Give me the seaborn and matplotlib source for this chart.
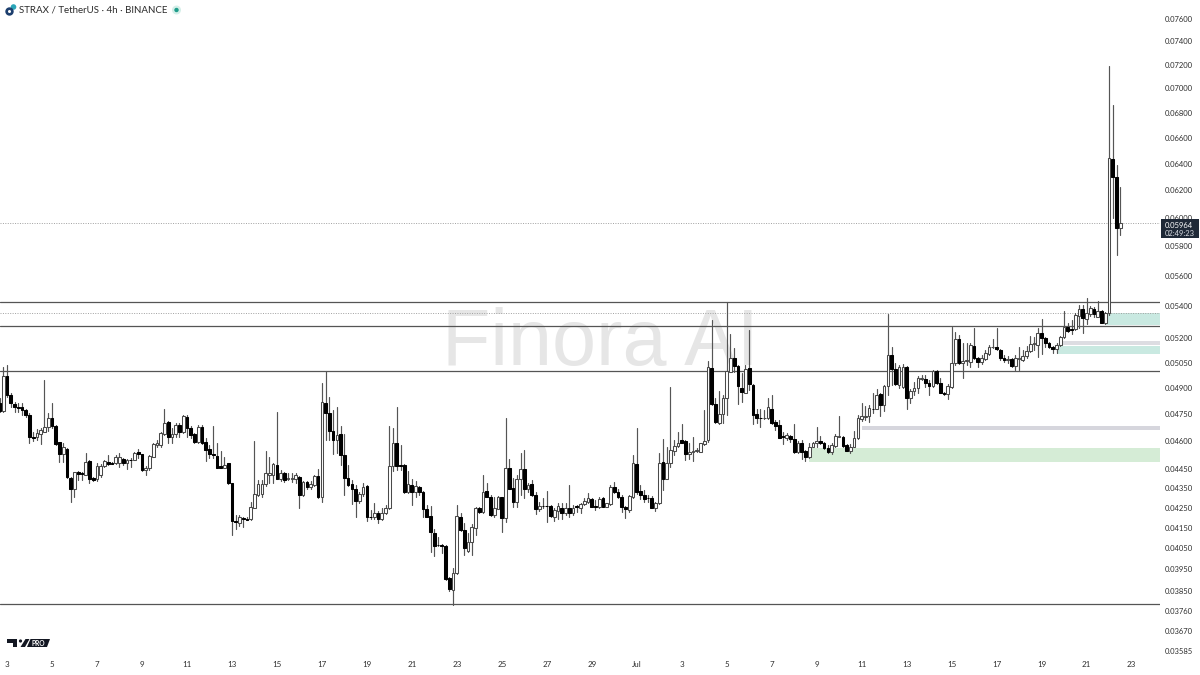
# STRAX/USDT 4h candles
import matplotlib
matplotlib.use("Agg")
import matplotlib.pyplot as plt
from matplotlib.patches import Circle, Polygon, Rectangle
from matplotlib.ticker import FixedLocator, NullLocator
import pandas as pd
import seaborn as sns

# prices are in ticks of 0.00001
opens = [
    4812, 4770, 4971, 4860, 4808, 4793, 4789, 4774, 4749, 4622,
    4622, 4640, 4653, 4677, 4727, 4686, 4594, 4531, 4558, 4404,
    4344, 4434, 4428, 4422, 4494, 4403, 4396, 4419, 4467, 4490,
    4483, 4481, 4485, 4504, 4485, 4501, 4499, 4544, 4530, 4445,
    4454, 4517, 4578, 4580, 4643, 4705, 4625, 4643, 4688, 4653,
    4737, 4675, 4640, 4598, 4681, 4598, 4558, 4531, 4521, 4467,
    4454, 4481, 4376, 4182, 4176, 4199, 4194, 4192, 4251, 4317,
    4320, 4370, 4419, 4419, 4474, 4401, 4428, 4396, 4401, 4398,
    4410, 4315, 4383, 4358, 4367, 4413, 4303, 4812, 4759, 4658,
    4607, 4640, 4526, 4406, 4372, 4349, 4285, 4319, 4362, 4206,
    4202, 4226, 4196, 4222, 4247, 4468, 4589, 4472, 4472, 4329,
    4367, 4329, 4355, 4331, 4242, 4209, 4127, 4066, 4066, 4062,
    3908, 3855, 3932, 4206, 4139, 4039, 4082, 4151, 4247, 4231,
    4337, 4307, 4214, 4244, 4303, 4201, 4454, 4353, 4281, 4398,
    4449, 4349, 4370, 4315, 4244, 4262, 4261, 4259, 4202, 4236,
    4247, 4222, 4251, 4222, 4261, 4247, 4269, 4281, 4293, 4259,
    4256, 4298, 4256, 4269, 4358, 4331, 4307, 4253, 4239, 4303,
    4477, 4337, 4315, 4301, 4298, 4251, 4273, 4490, 4401, 4481,
    4549, 4575, 4607, 4600, 4530, 4540, 4549, 4544, 4585, 4607,
    5017, 4806, 4699, 4752, 4841, 4997, 5081, 5031, 4904, 4874,
    5017, 4918, 4750, 4731, 4727, 4727, 4783, 4705, 4690, 4629,
    4616, 4631, 4611, 4540, 4592, 4546, 4513, 4571, 4589, 4603,
    4589, 4565, 4544, 4576, 4625, 4625, 4578, 4549, 4571, 4616,
    4722, 4737, 4740, 4783, 4783, 4864, 4802, 4914, 5097, 5013,
    4918, 4908, 5023, 4841, 4883, 4899, 4956, 4954, 4932, 4912,
    5001, 4928, 4874, 4864, 4908, 5051, 5193, 5051, 5059, 5057,
    5152, 5081, 5057, 5075, 5103, 5144, 5148, 5125, 5079, 5067,
    5071, 5031, 5071, 5067, 5091, 5121, 5162, 5158, 5230, 5203,
    5172, 5144, 5133, 5158, 5206, 5272, 5257, 5257, 5341, 5382,
    5317, 5351, 5384, 5334, 5371, 5292, 5360, 6432, 6300, 5929,
]
closes = [
    4770, 4971, 4860, 4812, 4793, 4787, 4774, 4746, 4622, 4616,
    4647, 4662, 4681, 4727, 4686, 4583, 4531, 4567, 4409, 4344,
    4433, 4424, 4424, 4490, 4396, 4393, 4468, 4468, 4494, 4479,
    4477, 4513, 4513, 4485, 4499, 4497, 4539, 4531, 4445, 4459,
    4521, 4585, 4593, 4647, 4699, 4625, 4643, 4688, 4653, 4740,
    4671, 4634, 4594, 4681, 4589, 4553, 4531, 4526, 4454, 4456,
    4470, 4376, 4184, 4177, 4206, 4192, 4191, 4256, 4320, 4372,
    4372, 4431, 4431, 4477, 4401, 4431, 4393, 4404, 4404, 4419,
    4315, 4384, 4358, 4372, 4413, 4303, 4821, 4755, 4658, 4607,
    4634, 4526, 4406, 4367, 4349, 4285, 4319, 4358, 4202, 4202,
    4226, 4196, 4226, 4247, 4468, 4589, 4468, 4467, 4329, 4370,
    4329, 4362, 4332, 4242, 4206, 4131, 4062, 4065, 4063, 3905,
    3858, 3932, 4209, 4139, 4050, 4082, 4155, 4247, 4231, 4332,
    4307, 4214, 4247, 4303, 4201, 4454, 4349, 4281, 4401, 4449,
    4349, 4365, 4315, 4244, 4261, 4261, 4259, 4209, 4239, 4261,
    4222, 4251, 4222, 4251, 4256, 4269, 4286, 4298, 4256, 4252,
    4293, 4256, 4273, 4355, 4331, 4307, 4253, 4246, 4310, 4481,
    4332, 4315, 4295, 4298, 4251, 4276, 4485, 4401, 4481, 4553,
    4575, 4593, 4593, 4530, 4544, 4548, 4553, 4589, 4603, 5027,
    4808, 4705, 4752, 4846, 5001, 5081, 5031, 4914, 4879, 5013,
    4924, 4746, 4727, 4727, 4731, 4789, 4703, 4684, 4620, 4625,
    4633, 4611, 4540, 4592, 4544, 4513, 4571, 4592, 4603, 4589,
    4562, 4544, 4580, 4631, 4629, 4574, 4549, 4571, 4616, 4727,
    4740, 4742, 4785, 4778, 4860, 4802, 4912, 5097, 5013, 4922,
    5027, 5027, 4841, 4883, 4899, 4958, 4958, 4932, 4912, 5001,
    4928, 4874, 4864, 4912, 5051, 5195, 5051, 5063, 5065, 5158,
    5077, 5057, 5077, 5111, 5144, 5148, 5133, 5077, 5067, 5073,
    5031, 5077, 5077, 5093, 5123, 5164, 5168, 5230, 5203, 5168,
    5144, 5131, 5158, 5206, 5272, 5247, 5251, 5345, 5384, 5328,
    5360, 5388, 5351, 5371, 5296, 5360, 6443, 6300, 5929, 5964,
]
highs = [
    4841, 5023, 5039, 4870, 4822, 4812, 4812, 4778, 4755, 4653,
    4666, 4671, 4948, 4755, 4816, 4690, 4598, 4589, 4562, 4409,
    4436, 4441, 4436, 4535, 4499, 4410, 4481, 4477, 4499, 4526,
    4490, 4526, 4535, 4508, 4504, 4508, 4544, 4557, 4531, 4467,
    4526, 4593, 4607, 4653, 4778, 4714, 4671, 4699, 4699, 4746,
    4746, 4684, 4647, 4690, 4690, 4616, 4580, 4684, 4589, 4549,
    4513, 4485, 4379, 4214, 4214, 4206, 4206, 4281, 4603, 4393,
    4393, 4549, 4513, 4485, 4761, 4445, 4436, 4428, 4428, 4428,
    4413, 4390, 4390, 4390, 4419, 4449, 4928, 5001, 4850, 4774,
    4793, 4686, 4643, 4470, 4393, 4367, 4332, 4379, 4365, 4239,
    4276, 4236, 4247, 4264, 4686, 4675, 4789, 4580, 4477, 4442,
    4396, 4390, 4362, 4334, 4264, 4259, 4147, 4106, 4071, 4066,
    3913, 3955, 4264, 4222, 4172, 4126, 4169, 4252, 4256, 4422,
    4376, 4315, 4303, 4310, 4307, 4727, 4503, 4406, 4419, 4538,
    4553, 4376, 4393, 4332, 4281, 4298, 4337, 4264, 4247, 4273,
    4276, 4273, 4367, 4264, 4264, 4276, 4298, 4324, 4298, 4290,
    4303, 4303, 4276, 4367, 4384, 4344, 4315, 4260, 4315, 4526,
    4671, 4367, 4341, 4315, 4310, 4281, 4535, 4611, 4571, 4907,
    4607, 4649, 4696, 4607, 4589, 4622, 4562, 4593, 4774, 5063,
    5313, 4841, 4885, 4860, 5430, 5224, 5137, 5035, 4987, 5037,
    5251, 4922, 4783, 4783, 4774, 4841, 4860, 4718, 4716, 4653,
    4644, 4635, 4694, 4603, 4607, 4553, 4592, 4598, 4681, 4629,
    4598, 4580, 4589, 4640, 4740, 4629, 4585, 4583, 4658, 4746,
    4815, 4800, 4802, 4870, 4895, 4870, 4918, 5351, 5143, 5051,
    5037, 5043, 5031, 4893, 4938, 4974, 4978, 4978, 4948, 5007,
    5007, 4958, 4879, 4922, 5272, 5241, 5220, 5168, 5168, 5168,
    5265, 5087, 5097, 5127, 5158, 5193, 5265, 5131, 5097, 5093,
    5077, 5097, 5148, 5127, 5152, 5214, 5206, 5261, 5317, 5210,
    5178, 5152, 5168, 5214, 5373, 5292, 5313, 5360, 5410, 5410,
    5453, 5403, 5399, 5436, 5377, 5367, 7190, 6861, 6389, 6221,
]
lows = [
    4765, 4765, 4850, 4793, 4765, 4765, 4746, 4733, 4589, 4603,
    4607, 4585, 4653, 4658, 4671, 4580, 4490, 4490, 4406, 4281,
    4307, 4393, 4393, 4419, 4379, 4390, 4390, 4410, 4460, 4472,
    4477, 4477, 4463, 4472, 4449, 4463, 4499, 4508, 4442, 4419,
    4445, 4513, 4571, 4571, 4635, 4592, 4592, 4622, 4625, 4647,
    4625, 4616, 4589, 4589, 4585, 4495, 4508, 4508, 4454, 4454,
    4454, 4373, 4115, 4147, 4159, 4155, 4189, 4189, 4248, 4313,
    4307, 4362, 4379, 4379, 4396, 4390, 4384, 4393, 4384, 4379,
    4247, 4310, 4349, 4344, 4362, 4298, 4281, 4607, 4607, 4529,
    4535, 4472, 4315, 4362, 4269, 4202, 4276, 4310, 4182, 4192,
    4196, 4172, 4189, 4219, 4244, 4442, 4445, 4445, 4324, 4324,
    4267, 4303, 4315, 4206, 4202, 4034, 4014, 4062, 4026, 3900,
    3852, 3787, 3929, 4136, 4018, 4034, 4018, 4115, 4226, 4226,
    4303, 4211, 4206, 4242, 4131, 4181, 4344, 4256, 4256, 4315,
    4298, 4332, 4310, 4219, 4236, 4247, 4181, 4206, 4186, 4192,
    4192, 4214, 4206, 4214, 4231, 4226, 4264, 4276, 4252, 4239,
    4249, 4253, 4253, 4266, 4327, 4298, 4231, 4197, 4231, 4298,
    4320, 4293, 4281, 4281, 4247, 4236, 4269, 4341, 4398, 4463,
    4526, 4567, 4589, 4499, 4503, 4495, 4544, 4540, 4580, 4598,
    4802, 4699, 4695, 4699, 4746, 4993, 4997, 4808, 4822, 4870,
    4889, 4694, 4699, 4677, 4724, 4722, 4695, 4662, 4616, 4585,
    4607, 4598, 4535, 4535, 4503, 4494, 4508, 4567, 4567, 4585,
    4558, 4535, 4531, 4571, 4622, 4571, 4546, 4535, 4567, 4612,
    4714, 4720, 4709, 4759, 4778, 4740, 4770, 4860, 4918, 4918,
    4904, 4904, 4778, 4812, 4860, 4870, 4948, 4908, 4860, 4908,
    4924, 4870, 4860, 4835, 4904, 5037, 5043, 4962, 5037, 5027,
    5071, 5027, 5043, 5067, 5097, 5137, 5127, 5067, 5057, 5051,
    5023, 5007, 5007, 5061, 5077, 5113, 5127, 5087, 5103, 5148,
    5137, 5107, 5107, 5154, 5199, 5241, 5224, 5251, 5261, 5230,
    5286, 5339, 5330, 5330, 5292, 5288, 5345, 5999, 5741, 5878,
]

price_ticks = [0.07600, 0.07400, 0.07200, 0.07000, 0.06800, 0.06600, 0.06400,
               0.06200, 0.06000, 0.05800, 0.05600, 0.05400, 0.05200, 0.05050,
               0.04900, 0.04750, 0.04600, 0.04450, 0.04350, 0.04250, 0.04150,
               0.04050, 0.03950, 0.03850, 0.03760, 0.03670, 0.03585]
date_labels = ["3", "5", "7", "9", "11", "13", "15", "17", "19", "21", "23", "25",
               "27", "29", "Jul", "3", "5", "7", "9", "11", "13", "15", "17", "19",
               "21", "23"]
date_bars = [2 + 12 * k for k in range(len(date_labels))]

levels = [0.05430, 0.05276, 0.05001, 0.03791]
dotted_levels = [0.05964, 0.05358]
# start bar, low, high, colour
zone_starts = [295, 282, 283, 230, 216]
zone_lows = [0.05282, 0.05103, 0.05160, 0.04660, 0.04488]
zone_highs = [0.05358, 0.05151, 0.05183, 0.04682, 0.04563]
zone_colors = ["#c9e9e1", "#c9e9e1", "#dddde2", "#d6d6dd", "#d5ecd6"]

last_price = "0.05964"
countdown = "02:49:23"

TICK = 1e-5
df = pd.DataFrame({"open": opens, "high": highs, "low": lows, "close": closes}) * TICK
df["bar"] = df.index
df["up"] = df["close"] >= df["open"]
wicks = df.melt(id_vars="bar", value_vars=["low", "high"], value_name="price")

sns.set_theme(style="white")
plt.rcParams["font.family"] = ["Lato", "DejaVu Sans"]

fig = plt.figure(figsize=(12, 6.75), dpi=100)
ax = fig.add_axes([0, 20 / 675, 1160 / 1200, 655 / 675])
ax.patch.set_alpha(0)
ax.set_yscale("log")

# Zones and levels sit behind the candles
x_end = 309.6
for start, low, high, color in zip(zone_starts, zone_lows, zone_highs, zone_colors):
    ax.fill_between([start, x_end], low, high, color=color, lw=0, zorder=1)
for lev in levels:
    ax.axhline(lev, color="#555555", lw=0.9, zorder=2)
for lev in dotted_levels:
    ax.axhline(lev, color="#a0a0a0", lw=0.7, ls=(0, (1, 1.5)), zorder=2)

sns.lineplot(data=wicks, x="bar", y="price", units="bar", estimator=None,
             color="#555555", lw=0.85, ax=ax, zorder=3, legend=False)

body_low = df[["open", "close"]].min(axis=1)
body_size = (df["close"] - df["open"]).abs()
up = df["up"]
ax.bar(df["bar"][up], body_size[up], bottom=body_low[up], width=0.72,
       color="white", edgecolor="#4a4a4a", lw=0.75, zorder=4)
ax.bar(df["bar"][~up], body_size[~up], bottom=body_low[~up], width=0.72,
       color="black", edgecolor="black", lw=0.75, zorder=4)

ax.set_xlim(0.13, x_end)
ax.set_ylim(0.03568, 0.07774)
ax.set_xlabel("")
ax.set_ylabel("")
sns.despine(ax=ax, left=True, bottom=True, right=True, top=True)

ax.yaxis.tick_right()
ax.yaxis.set_major_locator(FixedLocator(price_ticks))
ax.yaxis.set_minor_locator(NullLocator())
ax.set_yticklabels([f"{p:.5f}" for p in price_ticks])
ax.set_xticks(date_bars)
ax.set_xticklabels(date_labels)
ax.tick_params(axis="y", length=0, pad=3.2, labelsize=5.5, labelcolor="#2e2e2e")
ax.tick_params(axis="x", length=0, pad=4, labelsize=5.8, labelcolor="#2e2e2e")
ax.grid(False)

# Everything after this is decoration, placed in pixels
over = fig.add_axes([0, 0, 1, 1], zorder=5)
over.set_xlim(0, 1200)
over.set_ylim(675, 0)
over.axis("off")

ax.text(600, 365, "Finora AI", transform=over.transData, ha="center", va="baseline",
        fontsize=57, family="Liberation Sans", color="#e6e6e6", zorder=0)

over.text(19, 10, "STRAX / TetherUS · 4h · BINANCE", fontsize=7.0, color="#2b2b2b",
          va="center", ha="left")
over.add_patch(Circle((13.5, 7), 2.8, color="#2aa5b8", lw=0))
over.add_patch(Circle((9.5, 11.5), 4.2, color="#1d3f6e", lw=0))
over.add_patch(Circle((9.5, 11.5), 1.5, color="white", lw=0))
over.add_patch(Circle((176.5, 10), 4.5, color="#d5efe9", lw=0))
over.add_patch(Circle((176.5, 10), 2.2, color="#1f9d8b", lw=0))

# TV PRO logo
over.add_patch(Polygon([(7, 639), (17, 639), (17, 647), (13, 647), (13, 642.5), (7, 642.5)],
                       color="#131722", lw=0))
over.add_patch(Circle((20.5, 641), 1.6, color="#131722", lw=0))
over.add_patch(Polygon([(25.5, 639), (29.5, 639), (25, 647), (20.5, 647)], color="#131722", lw=0))
over.add_patch(Polygon([(30.5, 639), (50, 639), (47, 647), (27, 647)], color="#131722", lw=0))
over.text(38.5, 643, "PRO", fontsize=4.8, color="white", fontweight="bold",
          ha="center", va="center")

over.add_patch(Rectangle((1161, 218.5), 38, 19.5, color="#1f2937", lw=0))
over.text(1165, 225, last_price, fontsize=5.5, color="white", va="center", ha="left")
over.text(1165, 233, countdown, fontsize=5.5, color="#d5d9df", va="center", ha="left")

fig.savefig("out.png", dpi=100)
